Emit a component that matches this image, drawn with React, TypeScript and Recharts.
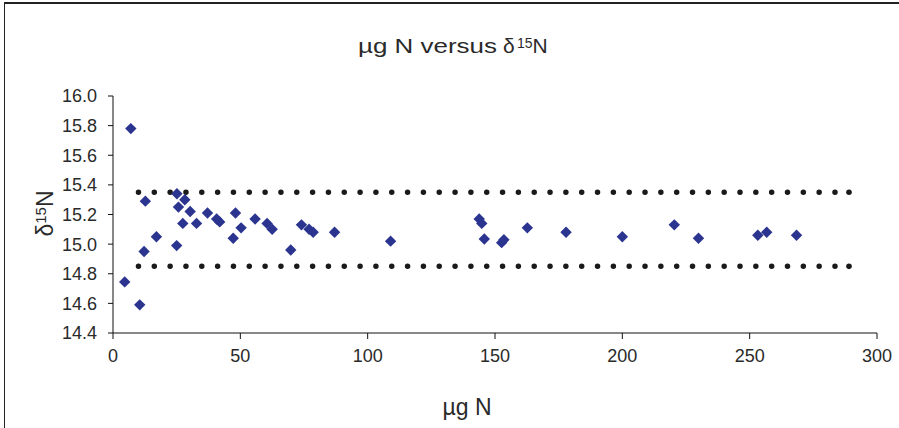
import React from 'react';
import { ScatterChart, Scatter, XAxis, YAxis, ReferenceLine, ReferenceDot } from 'recharts';

const massN = [4.6, 7.0, 10.5, 12.2, 12.7, 17.05, 25.0, 25.1, 25.7, 27.4, 28.2, 30.3, 32.8, 37.1, 40.7, 41.9, 47.2, 48.1, 50.3, 55.8, 60.5, 62.5, 69.8, 74.0, 77.0, 78.6, 87.0, 109.0, 143.8, 144.8, 145.8, 152.6, 153.5, 162.7, 177.9, 200.0, 220.4, 229.9, 253.2, 256.7, 268.4];
const delta15N = [14.745, 15.78, 14.59, 14.95, 15.29, 15.05, 14.99, 15.34, 15.25, 15.14, 15.30, 15.22, 15.14, 15.21, 15.17, 15.15, 15.04, 15.21, 15.11, 15.17, 15.14, 15.10, 14.96, 15.13, 15.10, 15.08, 15.08, 15.02, 15.17, 15.14, 15.035, 15.01, 15.03, 15.11, 15.08, 15.05, 15.13, 15.04, 15.06, 15.08, 15.06];

const upperLimit = 15.35;
const lowerLimit = 14.85;
const limitStart = 10;
const limitEnd = 289;

const xTicks = [0, 50, 100, 150, 200, 250, 300];
const yTicks = [14.4, 14.6, 14.8, 15.0, 15.2, 15.4, 15.6, 15.8, 16.0];

const points = massN.map((x, i) => ({ x, y: delta15N[i] }));

const FONT = '"Liberation Sans", Arial, sans-serif';
const TEXT = '#2a2a2a';

const Diamond = (props: any) => {
  const { cx, cy } = props;
  const r = 5.7;
  return (
    <polygon
      points={`${cx},${cy - r} ${cx + r},${cy} ${cx},${cy + r} ${cx - r},${cy}`}
      fill="#2b3590"
    />
  );
};

const YLabel = (props: any) => {
  const vb = props.viewBox || {};
  const cy = vb.y + vb.height / 2 - 1;
  const x = 53;
  return (
    <text
      transform={`translate(${x},${cy}) rotate(-90)`}
      textAnchor="middle"
      fontFamily={FONT}
      fontSize={23}
      fill={TEXT}
    >
      <tspan>δ</tspan>
      <tspan dy={-7} fontSize={15}>15</tspan>
      <tspan dy={7}>N</tspan>
    </text>
  );
};

const XLabel = () => {
  return (
    <text x={467} y={415} textAnchor="middle" fontFamily={FONT} fontSize={23} fill={TEXT}>
      µg N
    </text>
  );
};

export default function App() {
  return (
    <div style={{ position: 'absolute', left: 0, top: 0, width: 899, height: 428, background: '#fff', overflow: 'hidden' }}>
      <div
        style={{
          position: 'absolute',
          left: 4,
          top: 2,
          width: 1000,
          height: 1000,
          borderTop: '2px solid #222',
          borderLeft: '1.5px solid #222',
        }}
      />
      <svg width={899} height={428} style={{ position: 'absolute', left: 0, top: 0 }}>
        <text x={358} y={53} fontFamily={FONT} fontSize={21} fill={TEXT} textLength={139} lengthAdjust="spacingAndGlyphs">
          µg N versus
        </text>
        <text x={503} y={53} fontFamily={FONT} fontSize={21} fill={TEXT}>
          <tspan>δ</tspan>
          <tspan x={517} dy={-5} fontSize={14}>15</tspan>
          <tspan dy={5}>N</tspan>
        </text>
      </svg>
      <div style={{ position: 'absolute', left: 0, top: 0 }}>
        <ScatterChart width={899} height={428} margin={{ top: 96, right: 22, bottom: 0, left: 0 }}>
          <XAxis
            type="number"
            dataKey="x"
            domain={[0, 300]}
            ticks={xTicks}
            interval={0}
            height={95}
            stroke="#111"
            tickSize={6}
            tickMargin={10}
            tick={{ fontFamily: FONT, fontSize: 18, fill: TEXT }}
            label={<XLabel />}
            allowDataOverflow
          />
          <YAxis
            type="number"
            dataKey="y"
            domain={[14.4, 16.0]}
            ticks={yTicks}
            interval={0}
            width={113}
            stroke="#111"
            tickSize={5}
            tickMargin={11}
            tickFormatter={(v: number) => v.toFixed(1)}
            tick={{ fontFamily: FONT, fontSize: 18, fill: TEXT }}
            label={<YLabel />}
            allowDataOverflow
          />
          <ReferenceLine
            segment={[{ x: limitStart, y: upperLimit }, { x: limitEnd, y: upperLimit }]}
            stroke="#1a1a1a"
            strokeWidth={5.5}
            strokeDasharray="0 15.83"
            strokeLinecap="round"
            ifOverflow="visible"
          />
          <ReferenceLine
            segment={[{ x: limitStart, y: lowerLimit }, { x: limitEnd, y: lowerLimit }]}
            stroke="#1a1a1a"
            strokeWidth={5.5}
            strokeDasharray="0 15.83"
            strokeLinecap="round"
            ifOverflow="visible"
          />
          <ReferenceDot x={limitEnd} y={upperLimit} r={2.8} fill="#1a1a1a" stroke="none" />
          <ReferenceDot x={limitEnd} y={lowerLimit} r={2.8} fill="#1a1a1a" stroke="none" />
          <Scatter data={points} shape={<Diamond />} isAnimationActive={false} />
        </ScatterChart>
      </div>
    </div>
  );
}
